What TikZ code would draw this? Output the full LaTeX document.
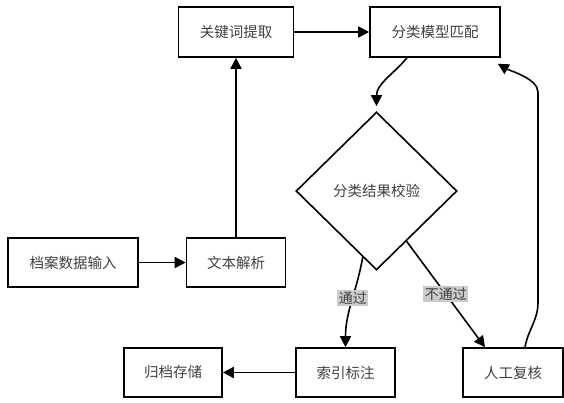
\documentclass[tikz,border=0pt]{standalone}
\usepackage{fontspec}
\newfontfamily\cjkfont{Noto Sans CJK SC}
\usepackage{tikz}
\usetikzlibrary{arrows.meta,positioning,calc,shapes.geometric}

\begin{document}
\begin{tikzpicture}[x=1pt, y=1pt, >={Triangle[length=11pt,width=11pt]}, line width=1.6pt,
  flowbox/.style={draw, rectangle, align=center, minimum height=49pt, inner sep=0pt, text=black!75, font=\cjkfont\fontsize{14.5}{17}\selectfont},
  checkbox/.style={draw, diamond, minimum width=161pt, minimum height=158pt, inner sep=0pt, text=black!75, font=\cjkfont\fontsize{14.5}{17}\selectfont},
  tag/.style={fill=black!20, inner sep=1.5pt, text=black!75, font=\cjkfont\fontsize{14}{16}\selectfont}]
  \useasboundingbox (0,0) rectangle (564,402);
  \node[flowbox, minimum width=130pt](input) at (73,139.5){档案数据输入};
  \node[flowbox, minimum width=99pt](parse) at (236,139.5){文本解析};
  \node[flowbox, minimum width=115pt, minimum height=50pt](kw) at (236,370){关键词提取};
  \node[flowbox, minimum width=130pt, minimum height=50pt](match) at (435,370){分类模型匹配};
  \node[checkbox](check) at (376.5,211){分类结果校验};
  \node[flowbox, minimum width=98pt](archive) at (173,29.5){归档存储};
  \node[flowbox, minimum width=99pt](index) at (345.5,29.5){索引标注};
  \node[flowbox, minimum width=100pt](review) at (513,29.5){人工复核};
  \foreach \a/\b in {input/parse,parse/kw,kw/match,index/archive}{\draw[->](\a)--(\b);}
  \draw[->]([xshift=-28pt]match.south) to[out=-130,in=90] ([yshift=5pt]check.north);
  \draw[->]($(check.west)!0.83!(check.south)$) to[out=-100,in=90] node[tag, pos=0.45](passtag){通过} (index.north);
  \draw[->]($(check.south)!0.37!(check.east)$) -- node[tag, pos=0.5](failtag){不通过} ([xshift=-28pt]review.north);
  \draw[->]([xshift=12pt]review.north) to[out=80,in=-90] ++(13,45) -- ++(0,210) to[out=90,in=-30,looseness=0.7] ([xshift=-3pt,yshift=-6pt]match.south east);
\end{tikzpicture}
\end{document}
